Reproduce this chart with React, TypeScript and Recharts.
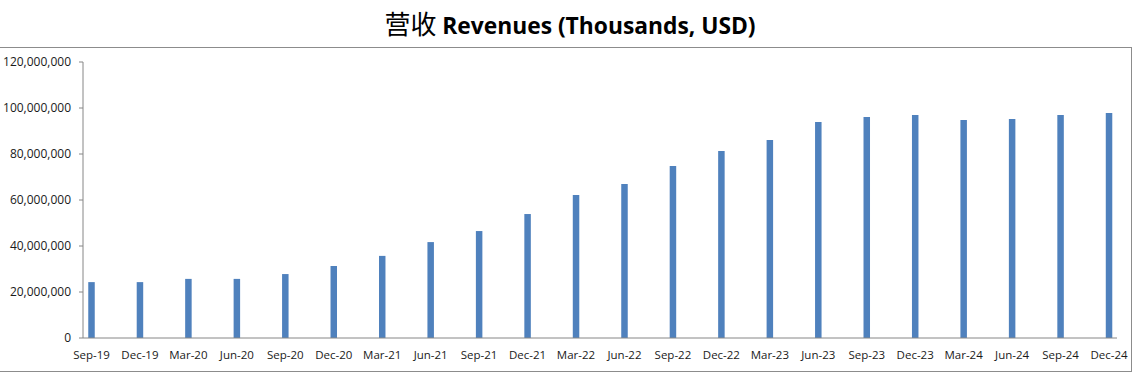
import { Bar, BarChart, XAxis, YAxis } from "recharts";

const quarters = [
  "Sep-19", "Dec-19", "Mar-20", "Jun-20", "Sep-20", "Dec-20", "Mar-21", "Jun-21",
  "Sep-21", "Dec-21", "Mar-22", "Jun-22", "Sep-22", "Dec-22", "Mar-23", "Jun-23",
  "Sep-23", "Dec-23", "Mar-24", "Jun-24", "Sep-24", "Dec-24"
];

// thousands of USD
const revenues = [
  24300000, 24300000, 25700000, 25700000, 27800000, 31300000, 35700000, 41700000,
  46500000, 53900000, 62200000, 67000000, 74800000, 81300000, 86100000, 93900000,
  96100000, 97000000, 94800000, 95200000, 97000000, 97800000
];

const yTicks = [0, 20000000, 40000000, 60000000, 80000000, 100000000, 120000000];

const AXIS = "#868686";
const TEXT = "#1a1a1a";
const FONT = "'Open Sans', 'Liberation Sans', sans-serif";

// excel puts the tick marks a little before each bar
const markShift = 0.175;
const domain: [number, number] = [-markShift, quarters.length - 1 + 0.165];

export default function App() {
  const data = quarters.map((q, i) => ({ idx: i, quarter: q, revenue: revenues[i] }));
  const idxTicks = data.map((d) => d.idx);
  const markTicks = idxTicks.map((i) => i - markShift);

  return (
    <div style={{ position: "absolute", left: 0, top: 0, width: 1135, height: 375, background: "#fff", overflow: "hidden" }}>
      <div
        style={{
          position: "absolute",
          left: 0,
          top: 4,
          width: 1135,
          textAlign: "center",
          paddingLeft: 5,
          boxSizing: "border-box",
          fontSize: 22.8,
          color: "#000",
          whiteSpace: "nowrap"
        }}
      >
        <span style={{ fontFamily: "'Noto Sans CJK SC'", fontSize: 26, fontWeight: 400 }}>营收 </span>
        <span style={{ fontFamily: FONT, fontWeight: 700 }}>Revenues (Thousands, USD)</span>
      </div>
      <div
        style={{
          position: "absolute",
          left: -2,
          top: 47,
          width: 1134,
          height: 325,
          boxSizing: "border-box",
          border: "1px solid #8c8c8c"
        }}
      />
      <div style={{ position: "absolute", left: 0, top: 0 }}>
        <BarChart
          width={1135}
          height={375}
          data={data}
          margin={{ top: 62, right: 18, bottom: 7, left: 0 }}
        >
          <XAxis
            xAxisId="marks"
            type="number"
            dataKey="idx"
            domain={domain}
            allowDataOverflow
            ticks={markTicks}
            interval={0}
            height={0}
            axisLine={false}
            tickSize={4}
            tickLine={{ stroke: AXIS }}
            tickFormatter={() => ""}
          />
          <XAxis
            type="number"
            dataKey="idx"
            domain={domain}
            allowDataOverflow
            ticks={idxTicks}
            interval={0}
            height={30}
            axisLine={{ stroke: AXIS }}
            tickLine={false}
            tickSize={4}
            tickMargin={9}
            tickFormatter={(v) => quarters[v] ?? ""}
            tick={{ fontSize: 11.5, fill: TEXT, fontFamily: FONT }}
          />
          <YAxis
            width={83}
            domain={[0, 120000000]}
            ticks={yTicks}
            interval={0}
            axisLine={{ stroke: AXIS }}
            tickLine={{ stroke: AXIS }}
            tickSize={4}
            tickMargin={8}
            tickFormatter={(v) => Number(v).toLocaleString("en-US")}
            tick={{ fontSize: 12, fill: TEXT, fontFamily: FONT }}
          />
          <Bar dataKey="revenue" fill="#4F81BD" barSize={6.5} isAnimationActive={false} />
        </BarChart>
      </div>
    </div>
  );
}
